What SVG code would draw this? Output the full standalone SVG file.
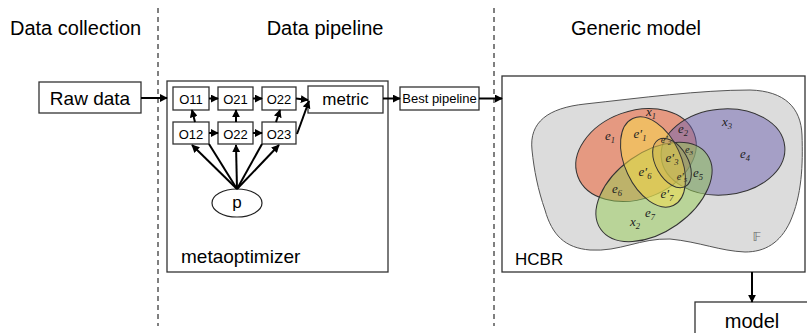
<svg xmlns="http://www.w3.org/2000/svg" width="807" height="333" viewBox="0 0 807 333">
<style>
.t{font-family:"Liberation Sans",Arial,sans-serif;fill:#000}
.box{fill:#fff;stroke:#333;stroke-width:1.3}
.dash{stroke:#000;stroke-width:1;stroke-dasharray:5,4;fill:none}
.ar{stroke:#000;stroke-width:2;fill:none}
.arm{stroke:#000;stroke-width:2;fill:none;marker-end:url(#ah)}
.m{font-family:"Liberation Serif","DejaVu Serif",serif;font-style:italic;font-size:13px;fill:#222;text-anchor:middle}
.m2{font-size:10.5px}
.s{font-size:8.5px}
.s2{font-size:7px}
</style>
<defs>
<marker id="ah" viewBox="0 0 10 10" refX="9" refY="5" markerWidth="4" markerHeight="4" orient="auto">
<path d="M0,0 L10,5 L0,10 z" fill="#000"/>
</marker>
</defs>
<rect width="807" height="333" fill="#fff"/>

<g id="titles">
<text class="t" x="10" y="35" font-size="20">Data collection</text>
<text class="t" x="325" y="35" font-size="20" text-anchor="middle">Data pipeline</text>
<text class="t" x="636" y="35" font-size="20" text-anchor="middle">Generic model</text>
</g>
<g id="separators">
<line class="dash" x1="158" y1="8" x2="158" y2="326"/>
<line class="dash" x1="494" y1="8" x2="494" y2="326"/>
</g>

<g id="raw-data">
<rect class="box" x="39" y="82" width="102" height="31"/>
<text class="t" x="90" y="105" font-size="19" text-anchor="middle">Raw data</text>
</g>

<g id="metaoptimizer">
<rect class="box" x="167" y="81" width="221" height="191" stroke="#444"/>
<text class="t" x="181" y="263" font-size="19">metaoptimizer</text>
</g>
<g id="O11"><rect class="box" x="173" y="87" width="36" height="23"/><text class="t" x="191" y="103.5" font-size="13" text-anchor="middle">O11</text></g>
<g id="O21"><rect class="box" x="218" y="87" width="35" height="23"/><text class="t" x="235.5" y="103.5" font-size="13" text-anchor="middle">O21</text></g>
<g id="O22a"><rect class="box" x="262" y="87" width="34" height="23"/><text class="t" x="279" y="103.5" font-size="13" text-anchor="middle">O22</text></g>
<g id="metric"><rect class="box" x="308" y="86" width="75" height="27"/><text class="t" x="345.5" y="105" font-size="17" text-anchor="middle">metric</text></g>
<g id="O12"><rect class="box" x="173" y="122" width="36" height="22"/><text class="t" x="191" y="138.5" font-size="13" text-anchor="middle">O12</text></g>
<g id="O22b"><rect class="box" x="218" y="122" width="35" height="22"/><text class="t" x="235.5" y="138.5" font-size="13" text-anchor="middle">O22</text></g>
<g id="O23"><rect class="box" x="262" y="122" width="34" height="22"/><text class="t" x="279" y="138.5" font-size="13" text-anchor="middle">O23</text></g>
<g id="p"><ellipse cx="237" cy="203" rx="25" ry="14" fill="#fff" stroke="#222" stroke-width="1.2"/><text class="t" x="237" y="208" font-size="17" text-anchor="middle">p</text></g>

<g id="best-pipeline">
<rect class="box" x="400" y="87" width="79" height="23"/>
<text class="t" x="439.5" y="103" font-size="13" text-anchor="middle">Best pipeline</text>
</g>

<g id="hcbr">
<rect class="box" x="502" y="76" width="303" height="196" stroke="#444"/>
<path d="M532,150 C529,122 548,108 585,104 C640,98 700,90 750,90 C785,91 801,108 802,135 C803,165 802,195 790,222 C780,243 765,252 745,252 C720,251 700,242 670,239 C640,238 620,252 590,250 C565,248 552,235 545,210 C538,190 534,170 532,150 Z" fill="#dcdcdc" stroke="#555" stroke-width="1"/>
<ellipse cx="636" cy="155" rx="62" ry="44" transform="rotate(-20 636 155)" fill="rgb(237,85,37)" fill-opacity="0.5" stroke="#333" stroke-width="1"/>
<ellipse cx="723" cy="152" rx="62" ry="43" transform="rotate(-5 723 152)" fill="rgb(109,97,175)" fill-opacity="0.5" stroke="#333" stroke-width="1"/>
<ellipse cx="654" cy="192" rx="65" ry="40" transform="rotate(-35 654 192)" fill="rgb(149,203,83)" fill-opacity="0.5" stroke="#333" stroke-width="1"/>
<ellipse cx="653" cy="162" rx="48" ry="28" transform="rotate(65 653 162)" fill="rgb(249,221,73)" fill-opacity="0.5" stroke="#333" stroke-width="1"/>
<ellipse cx="672" cy="163" rx="27" ry="16" transform="rotate(60 672 163)" fill="rgb(160,130,70)" fill-opacity="0.15" stroke="#333" stroke-width="1"/>
<text class="m" x="651" y="116">x<tspan class="s" dy="3">1</tspan></text>
<text class="m" x="610" y="140">e<tspan class="s" dy="3">1</tspan></text>
<text class="m" x="640" y="138">e′<tspan class="s" dy="3">1</tspan></text>
<text class="m" x="683" y="133">e<tspan class="s" dy="3">2</tspan></text>
<text class="m m2" x="666" y="143">e′<tspan class="s2" dy="2">2</tspan></text>
<text class="m m2" x="689" y="153">e<tspan class="s2" dy="2">3</tspan></text>
<text class="m" x="727" y="126">x<tspan class="s" dy="3">3</tspan></text>
<text class="m" x="745" y="158">e<tspan class="s" dy="3">4</tspan></text>
<text class="m" x="672" y="162">e′<tspan class="s" dy="3">3</tspan></text>
<text class="m" x="645" y="176">e′<tspan class="s" dy="3">6</tspan></text>
<text class="m" x="617" y="193">e<tspan class="s" dy="3">6</tspan></text>
<text class="m" x="698" y="177">e<tspan class="s" dy="3">5</tspan></text>
<text class="m m2" x="682" y="180">e′<tspan class="s2" dy="2">5</tspan></text>
<text class="m" x="667" y="198">e′<tspan class="s" dy="3">7</tspan></text>
<text class="m" x="650" y="217">e<tspan class="s" dy="3">7</tspan></text>
<text class="m" x="635" y="226">x<tspan class="s" dy="3">2</tspan></text>
<text x="757" y="241" font-family="DejaVu Sans,sans-serif" font-size="13" fill="#666" text-anchor="middle">𝔽</text>
<text class="t" x="515" y="265" font-size="17">HCBR</text>
</g>

<g id="model">
<rect class="box" x="695" y="302" width="130" height="50"/>
<text class="t" x="752" y="328" font-size="20" text-anchor="middle">model</text>
</g>

<g id="connectors">
<line class="arm" x1="141" y1="98" x2="167" y2="98"/>
<line class="arm" x1="209" y1="98.5" x2="218" y2="98.5"/>
<line class="arm" x1="253" y1="98.5" x2="262" y2="98.5"/>
<line class="arm" x1="296" y1="98.5" x2="308" y2="100"/>
<line class="arm" x1="209" y1="133" x2="218" y2="133"/>
<line class="arm" x1="253" y1="133" x2="262" y2="133"/>
<line class="arm" x1="297" y1="134" x2="309" y2="101"/>
<line class="arm" x1="195" y1="122" x2="192" y2="110"/>
<line class="arm" x1="236" y1="122" x2="236" y2="110"/>
<line class="arm" x1="276" y1="122" x2="280" y2="110"/>
<line class="arm" x1="237" y1="189" x2="192" y2="145"/>
<line class="ar" x1="237" y1="189" x2="209" y2="144"/>
<line class="arm" x1="237" y1="189" x2="236" y2="145"/>
<line class="ar" x1="237" y1="189" x2="262" y2="144"/>
<line class="arm" x1="237" y1="189" x2="279" y2="145"/>
<line class="arm" x1="383" y1="98.5" x2="400" y2="98.5"/>
<line class="arm" x1="479" y1="98.5" x2="502" y2="98.5"/>
<line class="arm" x1="752" y1="272" x2="752" y2="302"/>
</g>
</svg>
